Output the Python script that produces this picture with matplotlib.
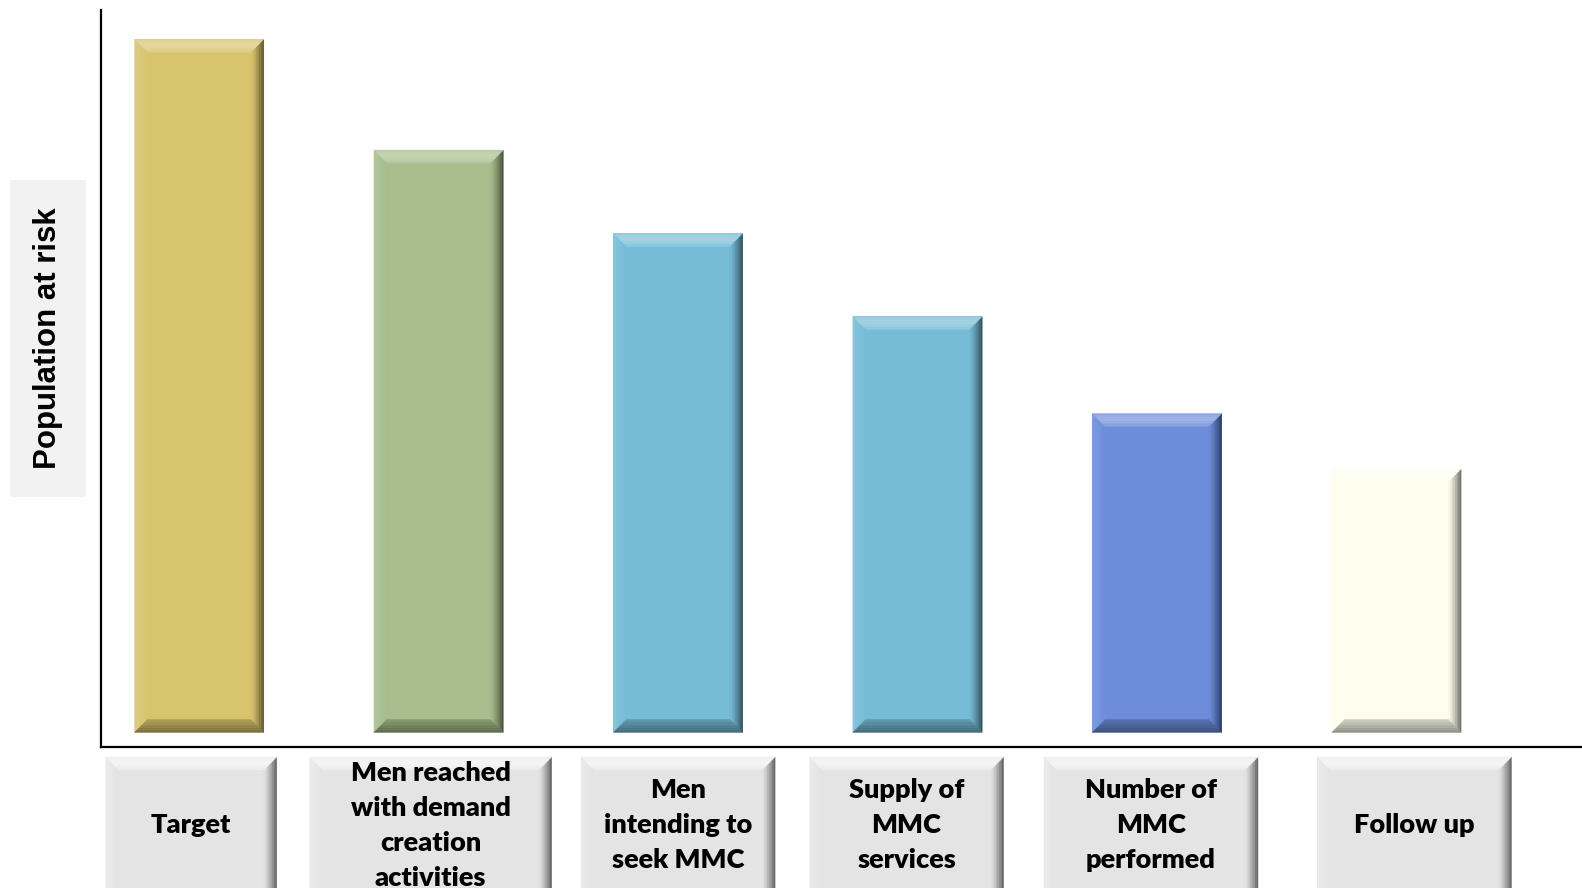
import numpy as np
import matplotlib
matplotlib.use('Agg')
import matplotlib.pyplot as plt
from matplotlib.patches import Polygon, Rectangle
from matplotlib import colors as mcolors
from matplotlib.transforms import Affine2D

#%% data

categories = ['Target',
              'Men reached\nwith demand\ncreation\nactivities',
              'Men\nintending to\nseek MMC',
              'Supply of\nMMC\nservices',
              'Number of\nMMC\nperformed',
              'Follow up']
values = [100, 84, 72, 60, 46, 38]
bar_colors = ['#D9C46E', '#A7BD8C', '#76BCD6', '#76BCD6', '#6D8DDB', '#FEFEEE']
box_widths = [171, 242, 194, 194, 214, 194]   # label box widths in px
box_dx = [-8, -8, 0, -11, -6, 18]             # label box shift from bar centre, px
ylabel = 'Population at risk'

#%% helpers

W, H = 1582, 888

def mix(c, other, f):
    c = np.array(mcolors.to_rgb(c))
    o = np.array(mcolors.to_rgb(other))
    f = min(max(f, 0), 1)
    return tuple(c*(1-f)+o*f)

def bevel(ax, x0, y0, x1, y1, color, b, tr, z, light=0.4, dark=0.6, n=8):
    # bevel drawn as thin strips, u=0 at outer edge, u=1 at inner edge
    for k in range(n):
        t0 = k*b/n
        t1 = (k+1)*b/n
        u = (k+0.5)/n
        top = [(x0+t0, y1-t0), (x1-t0, y1-t0), (x1-t1, y1-t1), (x0+t1, y1-t1)]
        bot = [(x0+t0, y0+t0), (x1-t0, y0+t0), (x1-t1, y0+t1), (x0+t1, y0+t1)]
        lef = [(x0+t0, y0+t0), (x0+t1, y0+t1), (x0+t1, y1-t1), (x0+t0, y1-t0)]
        rig = [(x1-t0, y0+t0), (x1-t1, y0+t1), (x1-t1, y1-t1), (x1-t0, y1-t0)]
        faces = [
            (lef, mix(color, 'white', light*0.35*(1-u))),
            (rig, mix(color, 'black', dark*(1-u)**1.3)),
            (top, mix(color, 'white', light*(0.5+0.5*np.sin(np.pi*u)) * (1-0.3*u))),
            (bot, mix(color, 'black', dark*0.75*(1-0.6*u))),
        ]
        for pts, fc in faces:
            ax.add_patch(Polygon(pts, closed=True, facecolor=fc, edgecolor=fc, linewidth=0.3,
                                 transform=tr, clip_on=False, zorder=z))

#%% figure

fig = plt.figure(figsize=(W/100, H/100), dpi=100)
fig.patch.set_facecolor('white')
pix = Affine2D().scale(1/W, 1/H) + fig.transFigure

ax = fig.add_axes([101/W, (H-747)/H, 1-101/W, (747-10)/H])
pos = np.arange(len(values))
bars = ax.bar(pos, values, width=0.54, color=bar_colors, zorder=2)

ax.set_xlim(-0.41, 5.775)
ax.set_ylim(-2.1, 104.2)
for s in ['top', 'right']:
    ax.spines[s].set_visible(False)
for s in ['left', 'bottom']:
    ax.spines[s].set_linewidth(1.6)
    ax.spines[s].set_color('black')
ax.set_xticks([])
ax.set_yticks([])

# bevels on the bars
to_pix = ax.transData + pix.inverted()
for p, c in zip(bars.patches, bar_colors):
    (bx0, by0), (bx1, by1) = to_pix.transform([(p.get_x(), p.get_y()),
                                               (p.get_x()+p.get_width(), p.get_y()+p.get_height())])
    bevel(ax, bx0, by0, bx1, by1, c, 13, pix, 3)

# category label boxes
box_top = H-757
box_bot = -20
box_fc = '#E4E4E4'
for i, (lab, bw) in enumerate(zip(categories, box_widths)):
    xc = to_pix.transform([(pos[i], 0)])[0][0] + box_dx[i]
    x0, x1 = xc-bw/2, xc+bw/2
    ax.add_patch(Rectangle((x0, box_bot), bw, box_top-box_bot, facecolor=box_fc,
                           edgecolor='none', transform=pix, clip_on=False, zorder=3))
    bevel(ax, x0, box_bot, x1, box_top, box_fc, 13, pix, 4, light=0.75, dark=0.6)
    fig.text(xc, H-825, lab, transform=pix, ha='center', va='center',
             fontsize=19.5, fontweight='heavy', family='Lato', linespacing=1.55,
             color='black', zorder=6)

# y label box
ax.add_patch(Rectangle((10, H-497), 76, 317, facecolor='#F2F2F2', edgecolor='none',
                       transform=pix, clip_on=False, zorder=1))
fig.text(48, H-338, ylabel, transform=pix, rotation=90, ha='center', va='center',
         fontsize=22.5, fontweight='bold', family='Liberation Sans', color='black')

fig.savefig('out.png', dpi=100)
